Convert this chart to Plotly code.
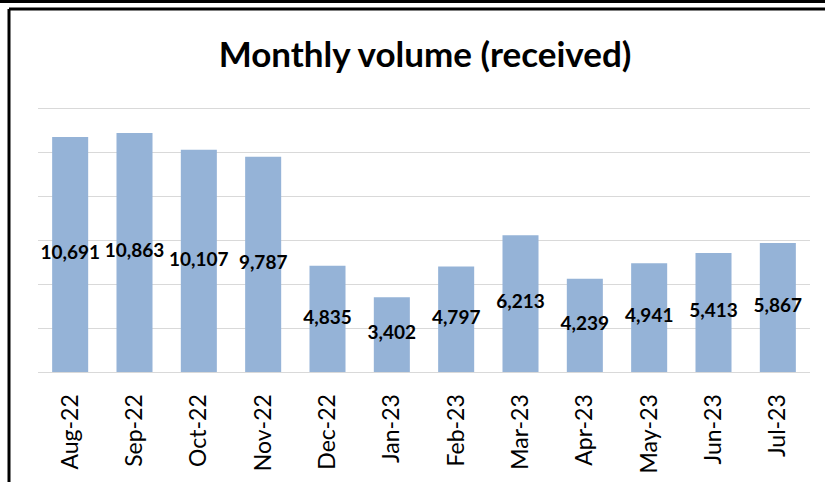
import plotly.graph_objects as go

months = ["Aug-22", "Sep-22", "Oct-22", "Nov-22", "Dec-22", "Jan-23",
          "Feb-23", "Mar-23", "Apr-23", "May-23", "Jun-23", "Jul-23"]
received = [10691, 10863, 10107, 9787, 4835, 3402, 4797, 6213, 4239, 4941, 5413, 5867]
label_text = [f"{v:,}" for v in received]

W, H = 825, 482
YMAX = 12050
L, R, B = 38, 15, 110
T = 108 - round((YMAX - 12000) * 44 / 2000)
PW, PH = W - L - R, H - T - B

def px(x):
    return (x - L) / PW

def py(y):
    return (H - B - y) / PH

fig = go.Figure()
fig.add_trace(go.Bar(
    x=months, y=received,
    marker=dict(color="#95B3D7", line=dict(width=0)),
    hoverinfo="skip",
))
fig.add_trace(go.Scatter(
    x=months, y=[v / 2 for v in received],
    mode="text", text=label_text, textposition="middle center",
    textfont=dict(family="Lato", size=19, color="black", weight="bold"),
    hoverinfo="skip", cliponaxis=False,
))

shapes = [
    dict(type="line", xref="paper", yref="paper", x0=px(-5), x1=px(W + 5),
         y0=py(1.5), y1=py(1.5), line=dict(color="black", width=3)),
    dict(type="line", xref="paper", yref="paper", x0=px(9), x1=px(W + 5),
         y0=py(9), y1=py(9), line=dict(color="black", width=3)),
    dict(type="line", xref="paper", yref="paper", x0=px(9), x1=px(9),
         y0=py(9), y1=py(H + 5), line=dict(color="black", width=3)),
]

fig.update_layout(
    width=W, height=H,
    margin=dict(l=L, r=R, t=T, b=B, autoexpand=False),
    paper_bgcolor="white", plot_bgcolor="white",
    showlegend=False,
    bargap=0.44,
    shapes=shapes,
    title=dict(text="<b>Monthly volume (received)</b>", x=425 / W, xanchor="center",
               y=1 - 55 / H, yanchor="middle",
               font=dict(family="Lato", size=35, color="black")),
    xaxis=dict(range=[-0.5, len(months) - 0.5], showgrid=False, showline=True,
               linecolor="#D9D9D9", linewidth=1,
               tickangle=-90, ticks="", ticklabelstandoff=12, automargin=False,
               tickfont=dict(family="Lato", size=23, color="black")),
    yaxis=dict(range=[0, YMAX], dtick=2000, showgrid=True, gridcolor="#D9D9D9",
               gridwidth=1, showticklabels=False, zeroline=False, ticks="",
               automargin=False),
)

fig.write_html(
    "out.html",
    config={"displayModeBar": False},
    post_script="document.body.style.margin='0';document.body.style.overflow='hidden';",
)
